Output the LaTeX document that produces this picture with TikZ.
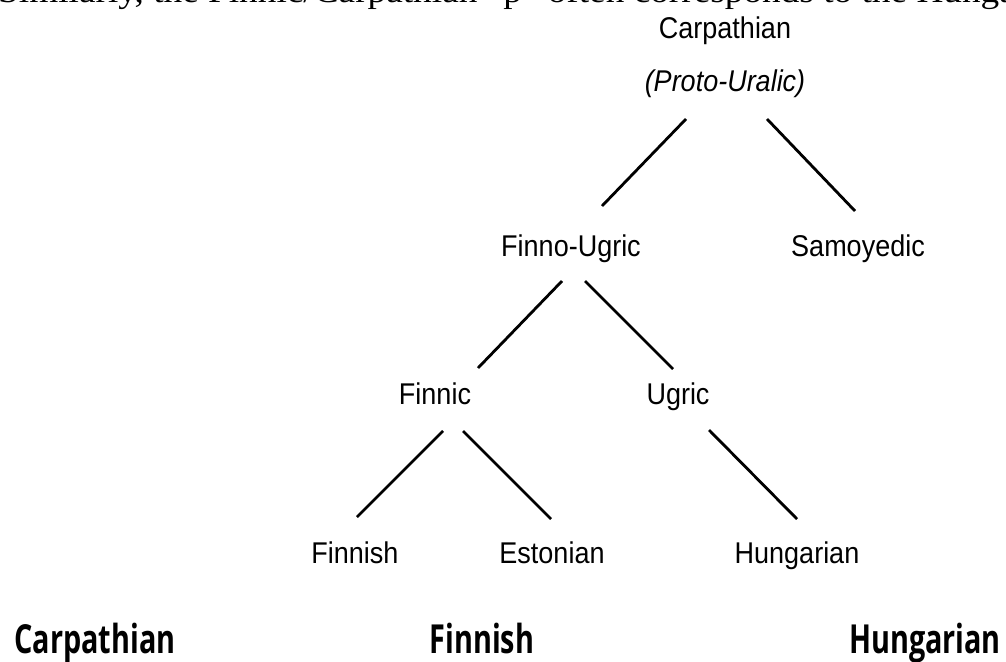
\documentclass[tikz,border=0pt]{standalone}
\usepackage{fontspec}
\setmainfont{Liberation Sans}
\newfontfamily\treefont[FakeStretch=0.9]{Liberation Sans}
\newfontfamily\serifline[FakeStretch=1.13]{Liberation Serif}
\newfontfamily\boldcond[FakeStretch=0.72]{Open Sans}
\begin{document}
\begin{tikzpicture}[x=1pt,y=-1pt,
  lbl/.style={inner sep=0pt, anchor=base, font=\treefont\fontsize{30}{34}\selectfont},
  ilbl/.style={lbl, font=\treefont\fontsize{30}{34}\selectfont\itshape},
  bottomlbl/.style={inner sep=0pt, anchor=base, font=\boldcond\bfseries\fontsize{40}{44}\selectfont},
  branch/.style={line width=2.8pt, black}]
\useasboundingbox (0,0) rectangle (1006,661);
\clip (0,0) rectangle (1006,661);
% clipped line of running text at the top
\node[anchor=base west, inner sep=0pt, font=\serifline\fontsize{33}{36}\selectfont] (intro) at (-2,3) {Similarly, the Finnic/Carpathian “p” often corresponds to the Hungarian};
% tree nodes
\node[lbl] (carp) at (725,38) {Carpathian};
\node[ilbl] (proto) at (725,92) {(Proto-Uralic)};
\node[lbl] (fu) at (571,256) {Finno-Ugric};
\node[lbl] (samo) at (858,256) {Samoyedic};
\node[lbl] (finnic) at (435,404) {Finnic};
\node[lbl] (ugric) at (678,404) {Ugric};
\node[lbl] (finnish) at (355,563) {Finnish};
\node[lbl] (eston) at (552,563) {Estonian};
\node[lbl] (hung) at (797,563) {Hungarian};
% connector end points
\coordinate (pA) at (686,119); \coordinate (fuA) at (602,206);
\coordinate (pB) at (767,119); \coordinate (saA) at (855,211);
\coordinate (fuB) at (562,281); \coordinate (fiA) at (478,368);
\coordinate (fuC) at (585,281); \coordinate (ugA) at (673,369);
\coordinate (fiB) at (443,431); \coordinate (fnA) at (357,517);
\coordinate (fiC) at (463,431); \coordinate (esA) at (551,519);
\coordinate (ugB) at (709,430); \coordinate (huA) at (797,519);
\draw[branch] (pA) -- (fuA);
\draw[branch] (pB) -- (saA);
\draw[branch] (fuB) -- (fiA);
\draw[branch] (fuC) -- (ugA);
\draw[branch] (fiB) -- (fnA);
\draw[branch] (fiC) -- (esA);
\draw[branch] (ugB) -- (huA);
% bottom labels
\node[bottomlbl] (bcarp) at (95,653) {Carpathian};
\node[bottomlbl] (bfinn) at (482,653) {Finnish};
\node[bottomlbl] (bhung) at (925,653) {Hungarian};
\end{tikzpicture}
\end{document}
